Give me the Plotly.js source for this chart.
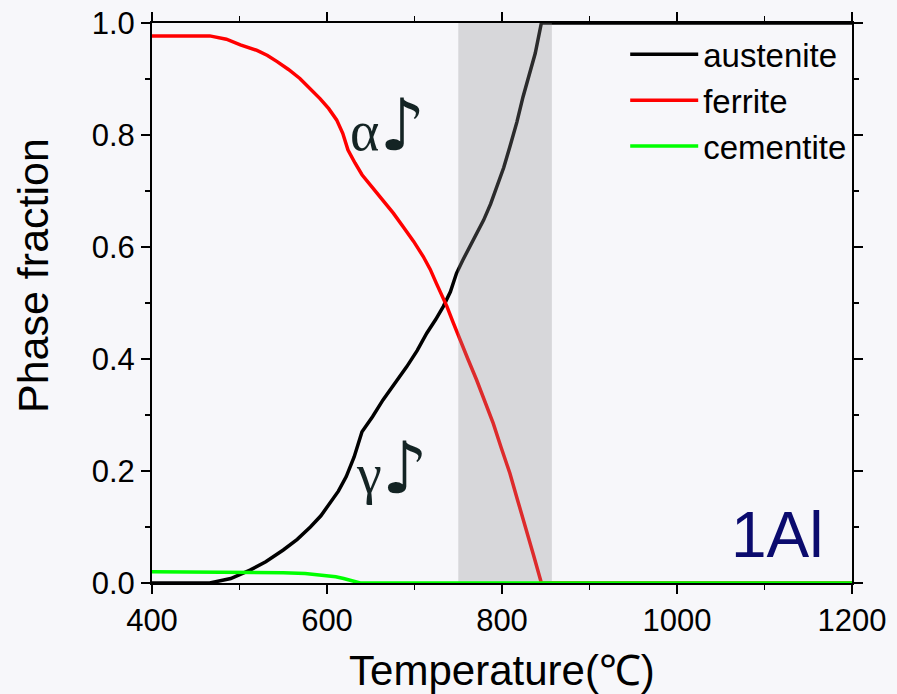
<!DOCTYPE html>
<html><head><meta charset="utf-8">
<script src="https://cdn.plot.ly/plotly-3.0.1.min.js"></script>
<style>html,body{margin:0;padding:0;background:#f7f7fa}</style>
</head><body><div id="chart" style="width:897px;height:694px"></div>
<script>
// Temperature (°C) and phase fractions
const austeniteT = [400, 466, 490, 512, 530, 550, 566, 581, 593, 603, 613, 622, 631, 640, 652, 664, 677, 691, 703, 714, 724, 733, 741, 748, 755, 763, 771, 779, 787, 794, 802, 809, 817, 824, 831, 838, 845, 1200];
const austeniteF = [0, 0, 0.008, 0.023, 0.038, 0.059, 0.078, 0.100, 0.120, 0.142, 0.164, 0.190, 0.225, 0.270, 0.297, 0.327, 0.355, 0.386, 0.415, 0.446, 0.470, 0.494, 0.520, 0.553, 0.576, 0.600, 0.623, 0.648, 0.677, 0.708, 0.742, 0.779, 0.823, 0.868, 0.905, 0.946, 1.0, 1.0];
const ferriteT = [400, 466, 485, 501, 520, 532, 543, 556, 569, 580, 592, 602, 611, 618, 624, 632, 640, 652, 664, 676, 687, 699, 710, 718, 725, 737, 744, 752, 761, 771, 780, 790, 799, 809, 818, 828, 836, 845, 1200];
const ferriteF = [0.977, 0.977, 0.971, 0.961, 0.951, 0.942, 0.931, 0.917, 0.901, 0.884, 0.865, 0.847, 0.827, 0.803, 0.773, 0.750, 0.729, 0.706, 0.684, 0.660, 0.636, 0.610, 0.583, 0.560, 0.535, 0.494, 0.466, 0.434, 0.400, 0.3625, 0.325, 0.285, 0.242, 0.196, 0.147, 0.095, 0.050, 0, 0];
const cementiteT = [400, 540, 550, 575, 596, 610, 619, 628, 638, 1200];
const cementiteF = [0.020, 0.020, 0.0185, 0.017, 0.014, 0.011, 0.008, 0.004, 0, 0];
const bandT = [750, 857];      // highlighted temperature window
const bandF = [0, 1];
const xTicks = [400, 600, 800, 1000, 1200];
const yTicks = [0.0, 0.2, 0.4, 0.6, 0.8, 1.0];

const FONT = '"Liberation Sans", Arial, sans-serif';
const SERIF = '"Liberation Serif", "Times New Roman", serif';
const NOTE = '<span style="font-family:DejaVu Sans;font-size:72px">♪</span>';

const traces = [
  {x: austeniteT, y: austeniteF, name: 'austenite', mode: 'lines', line: {color: '#000000', width: 3.5}, cliponaxis: false},
  {x: ferriteT, y: ferriteF, name: 'ferrite', mode: 'lines', line: {color: '#ff0000', width: 3.5}, cliponaxis: false},
  {x: [bandT[0], bandT[1], bandT[1], bandT[0], bandT[0]], y: [bandF[0], bandF[0], bandF[1], bandF[1], bandF[0]],
   mode: 'lines', fill: 'toself', fillcolor: 'rgba(141,141,145,0.3)', line: {width: 0}, showlegend: false, hoverinfo: 'skip'},
  {x: cementiteT, y: cementiteF, name: 'cementite', mode: 'lines', line: {color: '#00ff00', width: 3.5}, cliponaxis: false}
];

const layout = {
  width: 897, height: 694,
  margin: {l: 152, r: 45, t: 23, b: 111},
  paper_bgcolor: '#f7f7fa', plot_bgcolor: '#f7f7fa',
  font: {family: FONT, color: '#000'},
  showlegend: true,
  legend: {x: 0.676, y: 0.994, xanchor: 'left', yanchor: 'top', bgcolor: 'rgba(0,0,0,0)',
           font: {family: FONT, size: 33, color: '#000'}, itemwidth: 68, tracegroupgap: 0},
  xaxis: {
    range: [400, 1200], tickvals: xTicks, ticktext: xTicks.map(String),
    showgrid: false, zeroline: false, showline: true, linecolor: '#000', linewidth: 2,
    mirror: 'ticks', ticks: 'outside', ticklen: 9, tickwidth: 1.5, tickcolor: '#000',
    minor: {dtick: 100, ticks: 'outside', ticklen: 5, tickwidth: 1.5, tickcolor: '#000', showgrid: false},
    tickfont: {family: FONT, size: 31, color: '#000'},
    title: {text: 'Temperature(℃)', font: {family: FONT, size: 42, color: '#000'}, standoff: 20}
  },
  yaxis: {
    range: [0, 1], tickvals: yTicks, ticktext: yTicks.map(v => v.toFixed(1)),
    showgrid: false, zeroline: false, showline: true, linecolor: '#000', linewidth: 2,
    mirror: 'ticks', ticks: 'outside', ticklen: 9, tickwidth: 1.5, tickcolor: '#000',
    minor: {dtick: 0.1, ticks: 'outside', ticklen: 5, tickwidth: 1.5, tickcolor: '#000', showgrid: false},
    tickfont: {family: FONT, size: 31, color: '#000'}
  },
  annotations: [
    {text: 'Phase fraction', xref: 'paper', yref: 'paper', x: -0.17, y: 0.55, textangle: -90,
     xanchor: 'center', yanchor: 'middle', showarrow: false,
     font: {family: FONT, size: 43, color: '#000'}},
    {text: 'α' + NOTE, xref: 'paper', yref: 'paper', x: 0.336, y: 0.818, xanchor: 'center', yanchor: 'middle', showarrow: false,
     font: {family: SERIF, size: 56, color: '#142424'}},
    {text: 'γ' + NOTE, xref: 'paper', yref: 'paper', x: 0.343, y: 0.205, xanchor: 'center', yanchor: 'middle', showarrow: false,
     font: {family: SERIF, size: 56, color: '#142424'}},
    {text: '1Al', xref: 'paper', yref: 'paper', x: 0.893, y: 0.086, xanchor: 'center', yanchor: 'middle', showarrow: false,
     font: {family: FONT, size: 64, color: '#0b0b6e'}}
  ]
};

Plotly.newPlot('chart', traces, layout, {displayModeBar: false, staticPlot: true});
</script>
</body></html>
